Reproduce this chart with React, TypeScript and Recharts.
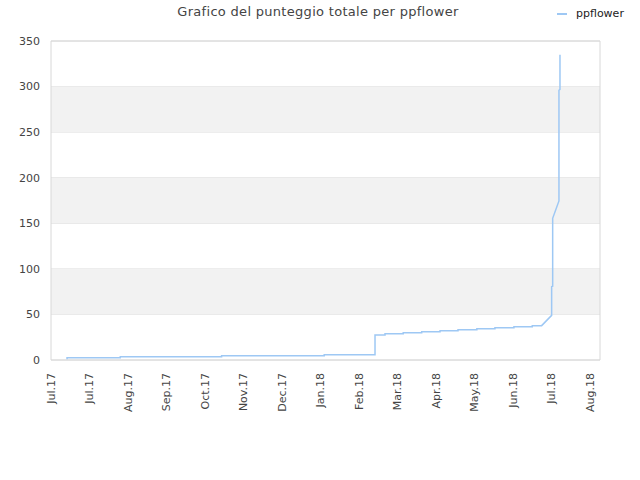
import React from "react";
import {
  LineChart,
  Line,
  XAxis,
  YAxis,
  CartesianGrid,
  ReferenceArea,
} from "recharts";

const title = "Grafico del punteggio totale per ppflower";
const seriesName = "ppflower";

// days since 1 Jul 2017
const days = [
  12.5, 12.5, 54, 54, 133, 133, 213, 213, 252.6, 252.6, 260.4, 260.4, 274.6, 274.6,
  289, 289, 303.3, 303.3, 317.3, 317.3, 332, 332, 346.1, 346.1, 360.9, 360.9,
  375.2, 375.2, 382.5, 390.3, 390.3, 391.1, 391.1, 396, 396, 396.8, 396.8,
];
const scores = [
  0.8, 2.5, 2.5, 3.6, 3.6, 4.7, 4.7, 5.8, 5.8, 27.5, 27.5, 28.9, 28.9, 30,
  30, 31.1, 31.1, 32.2, 32.2, 33.3, 33.3, 34.4, 34.4, 35.5, 35.5, 36.6,
  36.6, 37.7, 37.7, 49, 80.5, 81, 155.5, 174.5, 296, 297, 335,
];

const tickDays = [0, 30, 60, 90, 120, 150, 180, 210, 240, 270, 300, 330, 360, 390, 420];
const tickLabels = [
  "Jul.17", "Jul.17", "Aug.17", "Sep.17", "Oct.17", "Nov.17", "Dec.17", "Jan.18",
  "Feb.18", "Mar.18", "Apr.18", "May.18", "Jun.18", "Jul.18", "Aug.18",
];
const yTicks = [0, 50, 100, 150, 200, 250, 300, 350];
const bands = [
  [50, 100],
  [150, 200],
  [250, 300],
];

const data = days.map((d, i) => ({ day: d, score: scores[i] }));

const FONT = "'DejaVu Sans', sans-serif";
const LINE_COLOR = "#9ec8f4";
const TEXT = "#444";

const XTick = (props: any) => {
  const { x, y, payload } = props;
  const idx = tickDays.indexOf(payload.value);
  return (
    <text
      transform={`translate(${x + 4},${y + 5}) rotate(-90)`}
      textAnchor="end"
      fontSize={11}
      fill={TEXT}
      fontFamily={FONT}
    >
      {idx >= 0 ? tickLabels[idx] : ""}
    </text>
  );
};

export default function App() {
  return (
    <div style={{ position: "absolute", left: 0, top: 0, width: 640, height: 480, background: "#fff" }}>
      <div
        style={{
          position: "absolute",
          left: 0,
          top: 4,
          width: 636,
          textAlign: "center",
          fontFamily: FONT,
          fontSize: 13,
          color: TEXT,
          letterSpacing: 0.3,
        }}
      >
        {title}
      </div>
      <div
        style={{
          position: "absolute",
          top: 7,
          left: 557,
          display: "flex",
          alignItems: "center",
          fontFamily: FONT,
          fontSize: 11,
          color: "#222",
        }}
      >
        <svg width={10} height={6} style={{ marginRight: 9 }}>
          <line x1={0} y1={3} x2={10} y2={3} stroke={LINE_COLOR} strokeWidth={2} />
        </svg>
        <span>{seriesName}</span>
      </div>
      <LineChart
        width={640}
        height={480}
        data={data}
        margin={{ top: 41, right: 40, left: 0, bottom: 0 }}
      >
        {bands.map((b, i) => (
          <ReferenceArea
            key={i}
            y1={b[0]}
            y2={b[1]}
            fill="#f2f2f2"
            fillOpacity={1}
            stroke="none"
          />
        ))}
        <CartesianGrid vertical={false} stroke="#e0e0e0" />
        <ReferenceArea x1={0} x2={428} y1={0} y2={350} fill="none" stroke="#d8d8d8" strokeWidth={1} />
        <XAxis
          type="number"
          dataKey="day"
          domain={[0, 428]}
          ticks={tickDays}
          interval={0}
          height={120}
          axisLine={false}
          tickLine={false}
          tick={<XTick />}
        />
        <YAxis
          type="number"
          domain={[0, 350]}
          ticks={yTicks}
          width={51}
          axisLine={false}
          tickLine={false}
          tickMargin={5}
          tick={{ fontSize: 11, fill: TEXT, fontFamily: FONT }}
        />
        <Line
          type="linear"
          dataKey="score"
          stroke={LINE_COLOR}
          strokeWidth={1.5}
          dot={false}
          isAnimationActive={false}
        />
      </LineChart>
    </div>
  );
}
